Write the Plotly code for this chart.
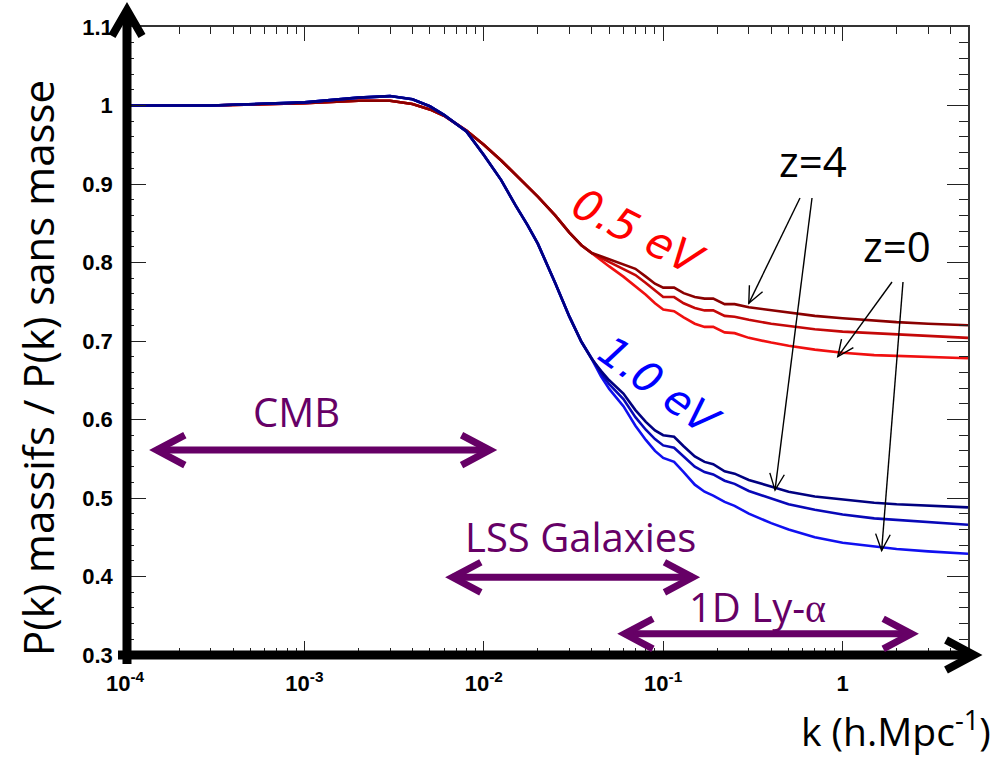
import math
import plotly.graph_objects as go

# ---------------- data ----------------
k = [1e-4, 3e-4, 1e-3, 2e-3, 3e-3, 4e-3, 5e-3, 6e-3, 8e-3, 0.01, 0.0125, 0.015,
     0.0175, 0.02, 0.025, 0.03, 0.035, 0.04, 0.045, 0.05, 0.06, 0.07, 0.08, 0.09,
     0.1, 0.115, 0.13, 0.15, 0.17, 0.19, 0.22, 0.25, 0.3, 0.4, 0.5, 0.7, 1.0,
     1.5, 2.0, 3.0, 5.0]

red_common = [1.000, 1.000, 1.003, 1.006, 1.006, 1.002, 0.995, 0.987, 0.968, 0.950,
              0.930, 0.912, 0.898, 0.884, 0.860, 0.838, 0.822, 0.812]
red_z4_tail = [0.808, 0.804, 0.798, 0.792, 0.782, 0.773, 0.768, 0.768, 0.761, 0.756,
               0.754, 0.754, 0.747, 0.747, 0.743, 0.739, 0.736, 0.732, 0.729, 0.726,
               0.724, 0.722, 0.720]
red_zmid_tail = [0.806, 0.801, 0.792, 0.784, 0.774, 0.764, 0.756, 0.756, 0.748, 0.742,
                 0.739, 0.739, 0.732, 0.731, 0.727, 0.722, 0.719, 0.715, 0.712, 0.710,
                 0.708, 0.706, 0.704]
red_z0_tail = [0.802, 0.795, 0.782, 0.770, 0.759, 0.748, 0.740, 0.738, 0.730, 0.722,
               0.718, 0.718, 0.711, 0.710, 0.704, 0.698, 0.694, 0.689, 0.685, 0.682,
               0.681, 0.679, 0.678]

blue_common = [1.000, 1.000, 1.004, 1.010, 1.012, 1.008, 0.999, 0.988, 0.967, 0.937,
               0.905, 0.873, 0.848, 0.824, 0.774, 0.731, 0.699, 0.677]
blue_z4_tail = [0.662, 0.650, 0.633, 0.612, 0.597, 0.586, 0.580, 0.578, 0.566, 0.553,
                0.546, 0.543, 0.534, 0.531, 0.523, 0.514, 0.508, 0.502, 0.498, 0.494,
                0.492, 0.490, 0.488]
blue_zmid_tail = [0.659, 0.645, 0.626, 0.603, 0.587, 0.575, 0.567, 0.564, 0.553, 0.540,
                  0.533, 0.530, 0.522, 0.518, 0.509, 0.499, 0.492, 0.485, 0.479, 0.474,
                  0.472, 0.469, 0.466]
blue_z0_tail = [0.655, 0.639, 0.617, 0.592, 0.574, 0.560, 0.551, 0.546, 0.533, 0.517,
                0.508, 0.503, 0.495, 0.490, 0.480, 0.468, 0.460, 0.450, 0.443, 0.438,
                0.435, 0.432, 0.429]

series = [
    ("0.5 eV z=0", red_common + red_z0_tail, "#f01010"),
    ("0.5 eV z=mid", red_common + red_zmid_tail, "#c40808"),
    ("0.5 eV z=4", red_common + red_z4_tail, "#8a0000"),
    ("1.0 eV z=0", blue_common + blue_z0_tail, "#1010f0"),
    ("1.0 eV z=mid", blue_common + blue_zmid_tail, "#0808b8"),
    ("1.0 eV z=4", blue_common + blue_z4_tail, "#000080"),
]

x_tick_vals = [1e-4, 1e-3, 1e-2, 1e-1, 1]
x_tick_text = ["10<sup>-4</sup>", "10<sup>-3</sup>", "10<sup>-2</sup>", "10<sup>-1</sup>", "1"]
y_tick_vals = [0.3, 0.4, 0.5, 0.6, 0.7, 0.8, 0.9, 1.0, 1.1]
y_tick_text = ["0.3", "0.4", "0.5", "0.6", "0.7", "0.8", "0.9", "1", "1.1"]

# probe ranges: k_min, k_max, ratio level, label, label centre in px
ranges = [
    (1.5e-4, 0.0108, 0.561, "CMB", (296, 411)),
    (6.7e-3, 0.146, 0.399, "LSS Galaxies", (580, 536)),
    (0.061, 2.42, 0.327, "1D Ly-<span style=\"font-family:'Liberation Serif'\">α</span>", (757, 606)),
]
# redshift pointers: label with centre in px; tails in px, tips on curves (k, ratio)
z_labels = [("z=4", (813, 160)), ("z=0", (897, 245))]
z_pointers = [
    ((800, 198), (0.30, 0.748)),
    ((812, 198), (0.42, 0.510)),
    ((892, 282), (0.94, 0.680)),
    ((903, 282), (1.65, 0.433)),
]

# ---------------- layout geometry ----------------
W, H = 1005, 760
L, R, T, B = 125, 37, 27, 105
XMIN, XMAX = -4.0, math.log10(5.0)
YMIN, YMAX = 0.3, 1.1
PW, PH = W - L - R, H - T - B


def d2px(kv, v):
    return (L + (math.log10(kv) - XMIN) / (XMAX - XMIN) * PW,
            T + (YMAX - v) / (YMAX - YMIN) * PH)


def px2p(px, py):
    return ((px - L) / PW, (H - B - py) / PH)


def path_px(points):
    s = ""
    for i, (px, py) in enumerate(points):
        x, y = px2p(px, py)
        s += ("M" if i == 0 else " L") + f"{x:.5f},{y:.5f}"
    return s


def vhead(tail, tip, length, half_angle_deg):
    dx, dy = tip[0] - tail[0], tip[1] - tail[1]
    n = math.hypot(dx, dy)
    ux, uy = dx / n, dy / n
    pts = []
    for sgn in (1, -1):
        a = math.radians(sgn * half_angle_deg)
        rx = ux * math.cos(a) - uy * math.sin(a)
        ry = ux * math.sin(a) + uy * math.cos(a)
        pts.append((tip[0] - length * rx, tip[1] - length * ry))
    return [pts[0], tip, pts[1]]


fig = go.Figure()
for name, vals, col in series:
    fig.add_trace(go.Scatter(x=k, y=vals, mode="lines", name=name,
                             line=dict(color=col, width=2.6), showlegend=False))

shapes = []
annotations = []

# thick black axis arrows
shapes.append(dict(type="path", xref="paper", yref="paper",
                   path=path_px([(127, 664), (127, 12)]),
                   line=dict(color="black", width=9)))
shapes.append(dict(type="path", xref="paper", yref="paper",
                   path=path_px([(112, 36), (127, 10), (142, 36)]),
                   line=dict(color="black", width=8)))
shapes.append(dict(type="path", xref="paper", yref="paper",
                   path=path_px([(118, 655), (972, 655)]),
                   line=dict(color="black", width=9)))
shapes.append(dict(type="path", xref="paper", yref="paper",
                   path=path_px([(946, 640), (974, 655), (946, 670)]),
                   line=dict(color="black", width=8)))

# purple probe ranges
PURPLE = "#660066"
for k0, k1, lev, label, (lx, ly) in ranges:
    a = d2px(k0, lev)
    b = d2px(k1, lev)
    shapes.append(dict(type="path", xref="paper", yref="paper",
                       path=path_px([a, b]), line=dict(color=PURPLE, width=7)))
    shapes.append(dict(type="path", xref="paper", yref="paper",
                       path=path_px(vhead(b, a, 32, 28)), line=dict(color=PURPLE, width=7)))
    shapes.append(dict(type="path", xref="paper", yref="paper",
                       path=path_px(vhead(a, b, 32, 28)), line=dict(color=PURPLE, width=7)))
    cx, cy = px2p(lx, ly)
    annotations.append(dict(x=cx, y=cy, xref="paper", yref="paper", text=label,
                            showarrow=False, xanchor="center", yanchor="middle",
                            font=dict(family="Open Sans", size=40, color=PURPLE)))

# redshift pointers
for tail, tip in z_pointers:
    h = d2px(*tip)
    shapes.append(dict(type="path", xref="paper", yref="paper",
                       path=path_px([tail, h]), line=dict(color="black", width=1.4)))
    shapes.append(dict(type="path", xref="paper", yref="paper",
                       path=path_px(vhead(tail, h, 18, 24)), line=dict(color="black", width=1.4)))
for label, (lx, ly) in z_labels:
    cx, cy = px2p(lx, ly)
    annotations.append(dict(x=cx, y=cy, xref="paper", yref="paper", text=label,
                            showarrow=False, xanchor="center", yanchor="middle",
                            font=dict(family="Open Sans", size=42, color="black")))

# mass labels
cx, cy = px2p(638, 232)
annotations.append(dict(x=cx, y=cy, xref="paper", yref="paper", text="<i>0.5 eV</i>",
                        showarrow=False, textangle=27, xanchor="center", yanchor="middle",
                        font=dict(family="DejaVu Sans", size=43, color="#ff0000")))
cx, cy = px2p(660, 386)
annotations.append(dict(x=cx, y=cy, xref="paper", yref="paper", text="<i>1.0 eV</i>",
                        showarrow=False, textangle=36, xanchor="center", yanchor="middle",
                        font=dict(family="DejaVu Sans", size=42, color="#0000ff")))

# axis titles
tx, ty = px2p(38, 368)
annotations.append(dict(x=tx, y=ty, xref="paper", yref="paper",
                        text="P(k) massifs / P(k) sans masse", textangle=-90,
                        showarrow=False, xanchor="center", yanchor="middle",
                        font=dict(family="Open Sans", size=42, color="black")))
tx, ty = px2p(993, 729)
annotations.append(dict(x=tx, y=ty, xref="paper", yref="paper",
                        text="k (h.Mpc<sup>-1</sup>)",
                        showarrow=False, xanchor="right", yanchor="middle",
                        font=dict(family="Open Sans", size=39, color="black")))

minor_x = [m * 10.0 ** e for e in range(-4, 1) for m in range(2, 10) if m * 10.0 ** e <= 5]

tickfont = dict(family="Liberation Sans", size=22, color="black", weight="bold")
fig.update_layout(
    width=W, height=H,
    margin=dict(l=L, r=R, t=T, b=B, pad=0),
    paper_bgcolor="white", plot_bgcolor="white",
    shapes=shapes, annotations=annotations,
    xaxis=dict(type="log", range=[XMIN, XMAX], tickmode="array",
               tickvals=x_tick_vals, ticktext=x_tick_text, tickfont=tickfont,
               ticks="inside", ticklen=14, tickwidth=1.3, tickcolor="#222",
               showline=True, linecolor="#333", linewidth=1.5, mirror="ticks",
               showgrid=False, zeroline=False, ticklabelstandoff=8,
               minor=dict(tickmode="array", tickvals=minor_x, ticks="inside",
                          ticklen=7, tickwidth=1.2, tickcolor="#222", showgrid=False)),
    yaxis=dict(range=[YMIN, YMAX], tickmode="array",
               tickvals=y_tick_vals, ticktext=y_tick_text, tickfont=tickfont,
               ticks="inside", ticklen=21, tickwidth=1.3, tickcolor="#222",
               showline=True, linecolor="#333", linewidth=1.5, mirror="ticks",
               showgrid=False, zeroline=False, ticklabelstandoff=6,
               minor=dict(dtick=0.02, tick0=0.3, ticks="inside", ticklen=9,
                          tickwidth=1.2, tickcolor="#222", showgrid=False)),
)

fig.write_html("out.html")
